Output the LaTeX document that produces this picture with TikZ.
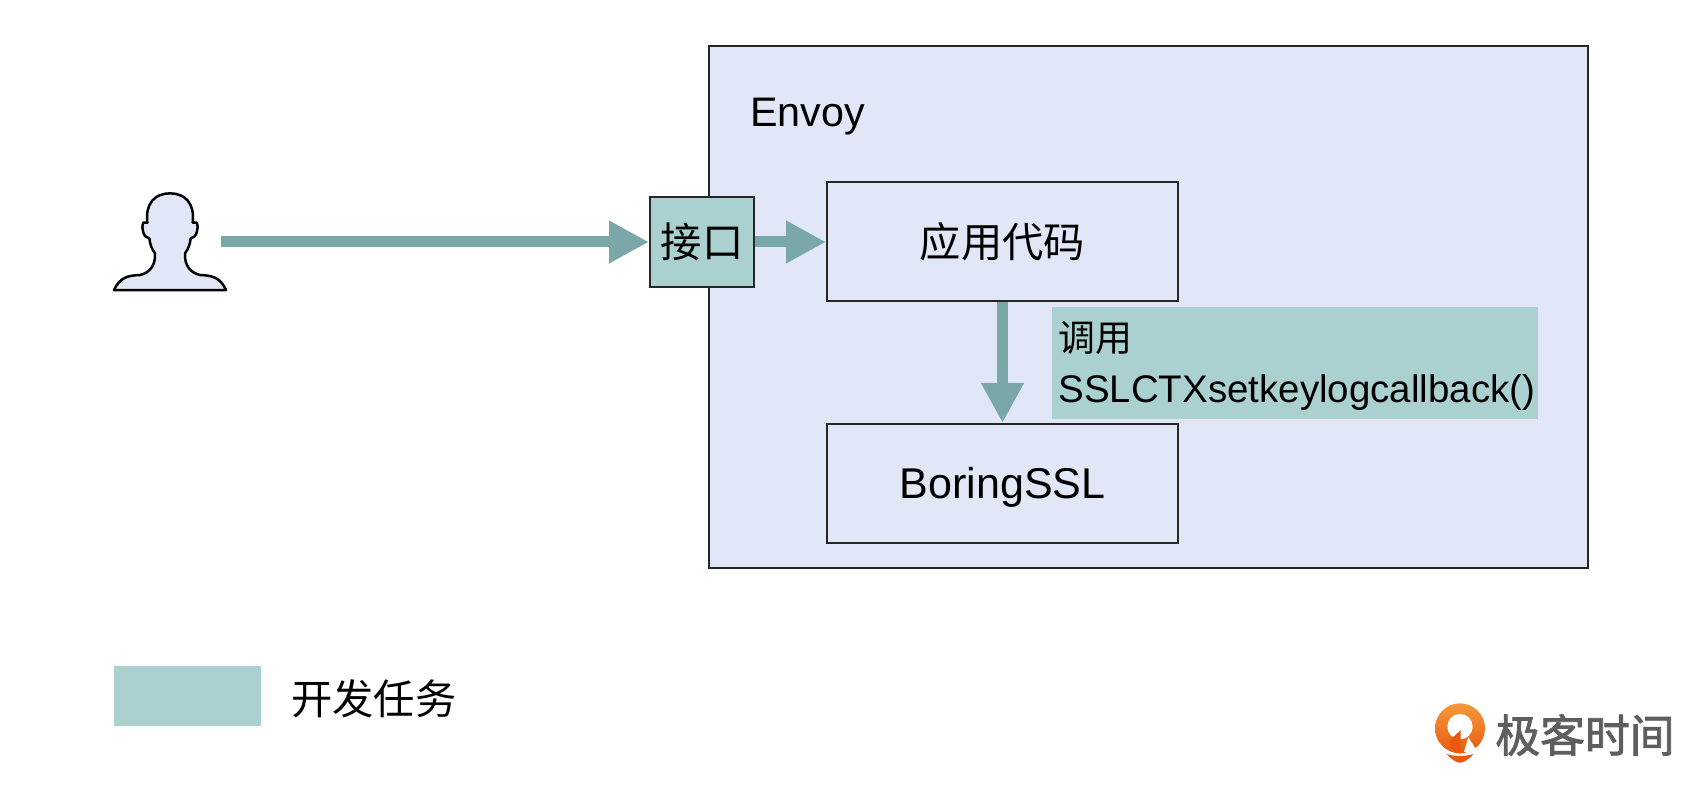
\documentclass[tikz,border=0pt]{standalone}
\usepackage{fontspec}
\usepackage{tikz}
\usetikzlibrary{arrows.meta}
\setmainfont{Liberation Sans}
\newfontfamily\cjk{Noto Sans CJK SC}
\newfontfamily\brandfont[FakeBold=1.8]{Noto Sans CJK SC}
\definecolor{envoyblue}{HTML}{E2E7F7}
\definecolor{taskgreen}{HTML}{ABD0D0}
\definecolor{flowgreen}{HTML}{7AA8A8}
\definecolor{logotop}{HTML}{F59A3D}
\definecolor{logobottom}{HTML}{E85A10}
\definecolor{logogray}{HTML}{5E5E5E}
\tikzset{
	box/.style={draw=black!85, line width=0.04cm, inner sep=0pt, align=center},
	flow/.style={draw=flowgreen, line width=0.22cm, -{Triangle[length=0.8cm,width=0.8cm]}},
	bigtext/.style={font=\fontsize{23.5}{28}\selectfont, inner sep=0pt},
	notetext/.style={font=\fontsize{21.9}{26}\selectfont, inner sep=0pt}
}
\begin{document}
\begin{tikzpicture}
	\useasboundingbox (0,0) rectangle (34.14,15.7);
	\node[box, fill=envoyblue, minimum width=17.58cm, minimum height=10.44cm] (envoy) at (22.97,9.56) {};
	\node[bigtext, anchor=west] (envoyname) at (15.0,13.36) {Envoy};
	\node[box, fill=envoyblue, minimum width=7.02cm, minimum height=2.38cm, bigtext] (app) at (20.05,10.86) {\cjk 应用代码};
	\node[box, fill=envoyblue, minimum width=7.02cm, minimum height=2.38cm, bigtext, font=\fontsize{24.5}{28}\selectfont, text height=22.6pt, text depth=5.2pt] (ssl) at (20.05,6.03) {BoringSSL};
	\node[box, fill=taskgreen, minimum width=2.08cm, minimum height=1.8cm, bigtext] (iface) at (14.04,10.86) {\cjk 接口};
	\node[fill=taskgreen, inner sep=0pt, minimum width=9.72cm, minimum height=2.24cm] (note) at (25.9,8.44) {};
	\node[notetext, anchor=west, font=\fontsize{21}{25}\selectfont] (notecn) at (21.16,8.95) {\cjk 调用};
	\node[notetext, anchor=west] (notefn) at (21.16,7.85) {SSLCTXsetkeylogcallback()};
	\node[fill=taskgreen, inner sep=0pt, minimum width=2.94cm, minimum height=1.2cm] (legend) at (3.75,1.77) {};
	\node[bigtext, anchor=west] (legendtext) at (5.82,1.73) {\cjk 开发任务};
	% person
	\begin{scope}[shift={(1.8,12.3)}, x=0.00667cm, y=-0.00667cm]
		\draw[fill=envoyblue, draw=black, line width=0.05cm, line join=round]
			(72,360) .. controls (88,325) and (110,316) .. (150,315)
			.. controls (180,308) and (197,285) .. (195,250)
			.. controls (184,235) and (180,222) .. (178,205)
			.. controls (162,205) and (152,175) .. (160,158)
			-- (172,158) .. controls (165,100) and (195,70) .. (240,70)
			.. controls (285,70) and (315,100) .. (308,158)
			-- (320,158) .. controls (328,175) and (318,205) .. (302,205)
			.. controls (300,222) and (296,235) .. (285,250)
			.. controls (283,285) and (300,308) .. (330,315)
			.. controls (370,316) and (392,325) .. (408,360) -- cycle;
	\end{scope}
	\coordinate (userout) at (4.42,10.86);
	\draw[flow] (userout) -- (iface.west);
	\draw[flow] (iface.east) -- (app.west);
	\draw[flow] (app.south) -- (ssl.north);
	% logo
	\begin{scope}[shift={(28,2.1)}, x=0.00667cm, y=-0.00667cm]
		\shade[top color=logotop, bottom color=logobottom] (180,145) circle (75);
		\fill[white] (180,140) circle (38);
		\fill[logobottom] (152,178) -- (182,150) -- (182,222) -- (152,205) -- cycle;
		\fill[logobottom] (140,222) .. controls (165,230) and (195,230) .. (220,222) .. controls (205,240) and (190,248) .. (180,248) .. controls (170,248) and (155,240) .. (140,222) -- cycle;
		\fill[white] (205,172) -- (226,205) -- (208,224) -- (192,215) -- cycle;
	\end{scope}
	\node[text=logogray, inner sep=0pt, font=\brandfont\fontsize{25.5}{30}\selectfont] (brand) at (31.7,1.0) {极客时间};
\end{tikzpicture}
\end{document}
